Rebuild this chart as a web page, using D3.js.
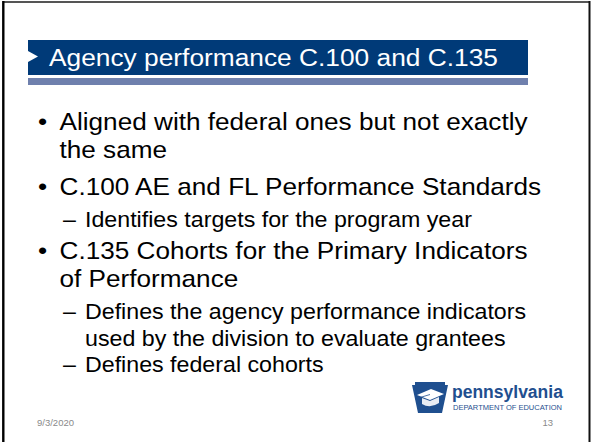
<!DOCTYPE html>
<html>
<head>
<meta charset="utf-8">
<script src="https://cdn.jsdelivr.net/npm/d3@7"></script>
<style>
  html, body { margin: 0; padding: 0; background: #fff; }
  svg { display: block; }
</style>
</head>
<body>
<div id="slide"></div>
<script>
// Slide content
const titleText = "Agency performance C.100 and C.135";
const itemLines = [
    ["Aligned with federal ones but not exactly", "the same"],
    ["C.100 AE and FL Performance Standards"],
    ["Identifies targets for the program year"],
    ["C.135 Cohorts for the Primary Indicators", "of Performance"],
    ["Defines the agency performance indicators", "used by the division to evaluate grantees"],
    ["Defines federal cohorts"]
];
const itemLevels = [1, 1, 2, 1, 2, 2];
const footerDate = "9/3/2020";
const slideNumber = "13";
const logoWord = "pennsylvania";
const logoSub = "DEPARTMENT OF EDUCATION";

const W = 591, H = 442;
const navy = "#003a78";
const font = "'Liberation Sans', Arial, sans-serif";

const svg = d3.select("#slide")
    .append("svg")
    .attr("width", W)
    .attr("height", H);

svg.append("rect").attr("width", W).attr("height", H).attr("fill", "#fff");

// Frame round the slide (no bottom edge in the picture)
svg.append("line").attr("x1", 3).attr("x2", 590).attr("y1", 2).attr("y2", 2)
    .attr("stroke", "#555").attr("stroke-width", 2);
svg.append("line").attr("x1", 3.3).attr("x2", 3.3).attr("y1", 1).attr("y2", H)
    .attr("stroke", "#000").attr("stroke-width", 2.4);
svg.append("line").attr("x1", 589.5).attr("x2", 589.5).attr("y1", 1).attr("y2", H)
    .attr("stroke", "#111").attr("stroke-width", 2);

// Title bar
const bar = { x0: 28, x1: 528, y0: 40, y1: 75 };
svg.append("rect")
    .attr("x", bar.x0).attr("y", bar.y0)
    .attr("width", bar.x1 - bar.x0).attr("height", bar.y1 - bar.y0)
    .attr("fill", navy);
svg.append("rect")
    .attr("x", bar.x0).attr("y", bar.y1 + 3)
    .attr("width", bar.x1 - bar.x0).attr("height", 7)
    .attr("fill", "#6f80ad");
svg.append("path")
    .attr("d", `M${bar.x0},51 L${bar.x0 + 10},56.5 L${bar.x0},62 Z`)
    .attr("fill", "#fff");
svg.append("text")
    .attr("transform", "translate(49,66) scale(1.12,1)")
    .attr("font-family", font)
    .attr("font-size", 23.5)
    .attr("fill", "#fff")
    .text(titleText);

// Bullet lines: work out baselines from levels
const lineGap = { 1: 28, 2: 26.5 };
const itemGap = { "1-1": 37, "2-1": 32, "1-2": 32, "2-2": 26 };
const rows = [];
let yPos = 130;
itemLines.forEach((lines, i) => {
    const lvl = itemLevels[i];
    if (i > 0) yPos += itemGap[`${itemLevels[i - 1]}-${lvl}`];
    lines.forEach((t, j) => {
        if (j > 0) yPos += lineGap[lvl];
        rows.push({ text: t, level: lvl, first: j === 0, y: yPos });
    });
});

const style = {
    1: { size: 24, sx: 1.09, markX: 38, textX: 59.5, mark: "\u2022" },
    2: { size: 21.5, sx: 1.08, markX: 63, textX: 85, mark: "\u2013" }
};

const rowG = svg.append("g").attr("font-family", font).attr("fill", "#000");

rowG.selectAll("text.line")
    .data(rows)
    .enter()
    .append("text")
    .attr("class", "line")
    .attr("transform", d => `translate(${style[d.level].textX},${d.y}) scale(${style[d.level].sx},1)`)
    .attr("font-size", d => style[d.level].size)
    .text(d => d.text);

rowG.selectAll("text.mark")
    .data(rows.filter(d => d.first))
    .enter()
    .append("text")
    .attr("class", "mark")
    .attr("transform", d => `translate(${style[d.level].markX},${d.y}) scale(${style[d.level].sx},1)`)
    .attr("font-size", d => style[d.level].size)
    .text(d => style[d.level].mark);

// Footer
svg.append("text")
    .attr("x", 37).attr("y", 426)
    .attr("font-family", font).attr("font-size", 9.5)
    .attr("fill", "#8a8a8a")
    .text(footerDate);
svg.append("text")
    .attr("x", 553).attr("y", 426)
    .attr("text-anchor", "end")
    .attr("font-family", font).attr("font-size", 9.5)
    .attr("fill", "#8a8a8a")
    .text(slideNumber);

// Department of Education logo
const logo = svg.append("g").attr("transform", "translate(412,382)");
const logoBlue = "#1f4f8f";
logo.append("path")
    .attr("d", "M3,0 L33,0 L33,3 L36,3 L30,31 L6,31 L0,3 L3,3 Z")
    .attr("fill", logoBlue);
// mortarboard
logo.append("path")
    .attr("d", "M5,13 L19,7 L32,12 L18,18 Z")
    .attr("fill", "#fff");
logo.append("path")
    .attr("d", "M10,16 L10,22 Q18,27 27,21 L27,15 L18,19 Z")
    .attr("fill", "#e8ecf3");
logo.append("path")
    .attr("d", "M18,12.5 L8,15.5 L8,21")
    .attr("fill", "none").attr("stroke", logoBlue).attr("stroke-width", 0.8);
logo.append("text")
    .attr("x", 40).attr("y", 16)
    .attr("font-family", font).attr("font-weight", "bold")
    .attr("font-size", 17.5).attr("fill", logoBlue)
    .text(logoWord);
logo.append("text")
    .attr("x", 41).attr("y", 27.5)
    .attr("font-family", font)
    .attr("font-size", 7.5).attr("fill", logoBlue)
    .text(logoSub);
</script>
</body>
</html>
